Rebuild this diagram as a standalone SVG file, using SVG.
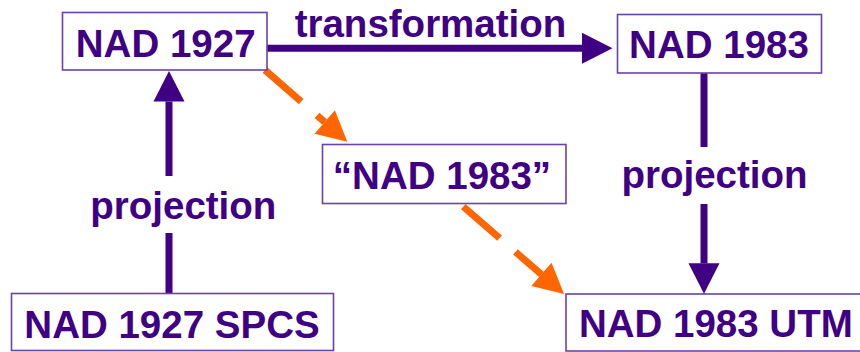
<svg xmlns="http://www.w3.org/2000/svg" width="860" height="352" viewBox="0 0 860 352">
  <style>
    .box { fill: #ffffff; stroke: #6a42ac; stroke-width: 1.6; }
    .lbl { font-family: "Liberation Sans", Arial, sans-serif; font-weight: bold; font-size: 38.5px; fill: #400084; text-anchor: middle; }
    .solid { fill: none; stroke: #400084; stroke-width: 7; marker-end: url(#headPurple); }
    .dashed { fill: none; stroke: #ff6600; stroke-width: 7; stroke-dasharray: 48 21; marker-end: url(#headOrange); }
  </style>
  <defs>
    <marker id="headPurple" markerUnits="userSpaceOnUse" markerWidth="32" markerHeight="32" refX="0" refY="15.5" orient="auto" overflow="visible">
      <path d="M0,0 L30.5,15.5 L0,31 Z" fill="#400084"/>
    </marker>
    <marker id="headOrange" markerUnits="userSpaceOnUse" markerWidth="32" markerHeight="32" refX="0" refY="15.5" orient="auto" overflow="visible">
      <path d="M0,0 L30,15.5 L0,31 Z" fill="#ff6600"/>
    </marker>
  </defs>
  <rect width="860" height="352" fill="#ffffff"/>

  <!-- connectors -->
  <g id="connectors">
    <path class="solid" d="M267,48.3 H582"/>
    <text class="lbl" x="430.5" y="36.7">transformation</text>
    <path class="solid" d="M169,293 V233 M169,176 V101.5"/>
    <text class="lbl" x="183.3" y="219.3">projection</text>
    <path class="solid" d="M704,73 V147 M704,204 V263.3"/>
    <text class="lbl" x="714.5" y="188">projection</text>
    <path class="dashed" d="M265,70 L324.7,122"/>
    <path class="dashed" d="M463.3,206.7 L541.4,274.4"/>
  </g>

  <!-- nodes -->
  <g id="nad1927">
    <rect class="box" x="62.5" y="12.5" width="204.5" height="57.5"/>
    <text class="lbl" x="165.7" y="57">NAD 1927</text>
  </g>
  <g id="nad1983">
    <rect class="box" x="617.5" y="14.5" width="204" height="58.5"/>
    <text class="lbl" x="719" y="57.7">NAD 1983</text>
  </g>
  <g id="nad1983quoted">
    <rect class="box" x="322.5" y="144.5" width="243.5" height="59"/>
    <text class="lbl" x="442" y="189">“NAD 1983”</text>
  </g>
  <g id="nad1927spcs">
    <rect class="box" x="11.5" y="293.5" width="322" height="57"/>
    <text class="lbl" x="172" y="338.3">NAD 1927 SPCS</text>
  </g>
  <g id="nad1983utm">
    <rect class="box" x="566" y="294" width="300" height="57"/>
    <text class="lbl" x="715.8" y="337.3">NAD 1983 UTM</text>
  </g>
</svg>
